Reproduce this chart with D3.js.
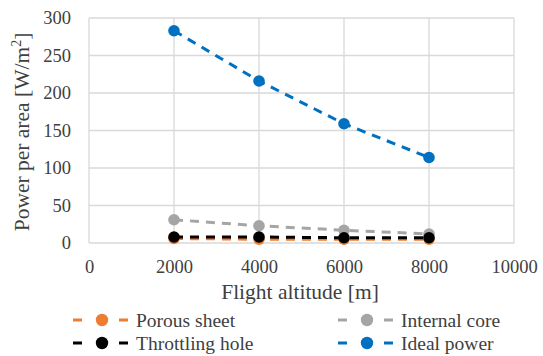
<!DOCTYPE html>
<html>
<head>
<meta charset="utf-8">
<script src="https://cdn.jsdelivr.net/npm/d3@7"></script>
<style>
  body { margin: 0; background: #fff; }
  svg text, svg tspan { font-family: "Liberation Serif", serif !important; }
</style>
</head>
<body>
<div id="chart"></div>
<script>
const altitudes = [2000, 4000, 6000, 8000];
const porousSheet = [6, 5, 5, 5];
const throttlingHole = [8, 8, 7, 7];
const internalCore = [31, 23, 17, 12];
const idealPower = [283, 216, 159, 114];
const xTicks = [0, 2000, 4000, 6000, 8000, 10000];
const yTicks = [0, 50, 100, 150, 200, 250, 300];

const series = [
  { name: 'Porous sheet', color: '#ed7d31', values: porousSheet },
  { name: 'Internal core', color: '#a5a5a5', values: internalCore },
  { name: 'Throttling hole', color: '#000000', values: throttlingHole },
  { name: 'Ideal power', color: '#0070c0', values: idealPower },
];

const serif = 'Liberation Serif';
const textColor = '#404040';

const width = 543,
  height = 356,
  plotLeft = 89,
  plotRight = 514,
  plotTop = 18,
  plotBottom = 243;

const x = d3.scaleLinear().domain([0, 10000]).range([plotLeft, plotRight]);
const y = d3.scaleLinear().domain([0, 300]).range([plotBottom, plotTop]);

const svg = d3
  .select('#chart')
  .append('svg')
  .attr('width', width)
  .attr('height', height)
  .style('font-family', serif);

// grid
svg
  .append('g')
  .selectAll('line')
  .data(yTicks)
  .enter()
  .append('line')
  .attr('x1', plotLeft)
  .attr('x2', plotRight)
  .attr('y1', (d) => y(d))
  .attr('y2', (d) => y(d))
  .attr('stroke', '#d9d9d9')
  .attr('stroke-width', 1.3);

svg
  .append('g')
  .selectAll('line')
  .data(xTicks)
  .enter()
  .append('line')
  .attr('x1', (d) => x(d))
  .attr('x2', (d) => x(d))
  .attr('y1', plotTop)
  .attr('y2', plotBottom)
  .attr('stroke', '#d9d9d9')
  .attr('stroke-width', 1.3);

// axes (labels only)
const xAxis = svg
  .append('g')
  .attr('transform', `translate(0, ${plotBottom})`)
  .call(d3.axisBottom(x).tickValues(xTicks).tickSize(0).tickPadding(17).tickFormat(d3.format('d')));
xAxis.attr('font-family', null).attr('font-size', null);
xAxis.select('.domain').remove();
xAxis
  .selectAll('text')
  .style('font-size', '18.5px')
  .attr('fill', textColor);

const yAxis = svg
  .append('g')
  .attr('transform', `translate(${plotLeft}, 0)`)
  .call(d3.axisLeft(y).tickValues(yTicks).tickSize(0).tickPadding(18));
yAxis.attr('font-family', null).attr('font-size', null);
yAxis.select('.domain').remove();
yAxis
  .selectAll('text')
  .style('font-size', '18.5px')
  .attr('fill', textColor);

// series
const line = d3
  .line()
  .x((d, i) => x(altitudes[i]))
  .y((d) => y(d));

const drawOrder = [series[1], series[3], series[0], series[2]];
drawOrder.forEach((s) => {
  svg
    .append('path')
    .datum(s.values)
    .attr('d', line)
    .attr('fill', 'none')
    .attr('stroke', s.color)
    .attr('stroke-width', 3)
    .attr('stroke-dasharray', '9,7');
  svg
    .append('g')
    .selectAll('circle')
    .data(s.values)
    .enter()
    .append('circle')
    .attr('cx', (d, i) => x(altitudes[i]))
    .attr('cy', (d) => y(d))
    .attr('r', 5.8)
    .attr('fill', s.color);
});

// axis titles
svg
  .append('text')
  .attr('x', 300)
  .attr('y', 299)
  .attr('text-anchor', 'middle')
  .style('font-size', '21.5px')
  .attr('fill', textColor)
  .text('Flight altitude [m]');

const yTitle = svg
  .append('text')
  .attr('transform', `translate(29, 132) rotate(-90)`)
  .attr('text-anchor', 'middle')
  .style('font-size', '21.5px')
  .attr('fill', textColor);
yTitle.append('tspan').text('Power per area [W/m');
yTitle.append('tspan').attr('dy', -8).style('font-size', '14px').text('2');
yTitle.append('tspan').attr('dy', 8).text(']');

// legend
const legendPos = [
  { x: 73, y: 320 },
  { x: 338, y: 320 },
  { x: 73, y: 343 },
  { x: 338, y: 343 },
];

const legend = svg
  .append('g')
  .selectAll('g')
  .data(series)
  .enter()
  .append('g')
  .attr('transform', (d, i) => `translate(${legendPos[i].x}, ${legendPos[i].y})`);

legend
  .append('line')
  .attr('x1', 0)
  .attr('x2', 55)
  .attr('y1', 0)
  .attr('y2', 0)
  .attr('stroke', (d) => d.color)
  .attr('stroke-width', 3)
  .attr('stroke-dasharray', '9,37');

legend
  .append('circle')
  .attr('cx', 29)
  .attr('cy', 0)
  .attr('r', 6.2)
  .attr('fill', (d) => d.color);

legend
  .append('text')
  .attr('x', 63)
  .attr('y', 7)
  .style('font-size', '19.5px')
  .attr('fill', textColor)
  .text((d) => d.name);
</script>
</body>
</html>
